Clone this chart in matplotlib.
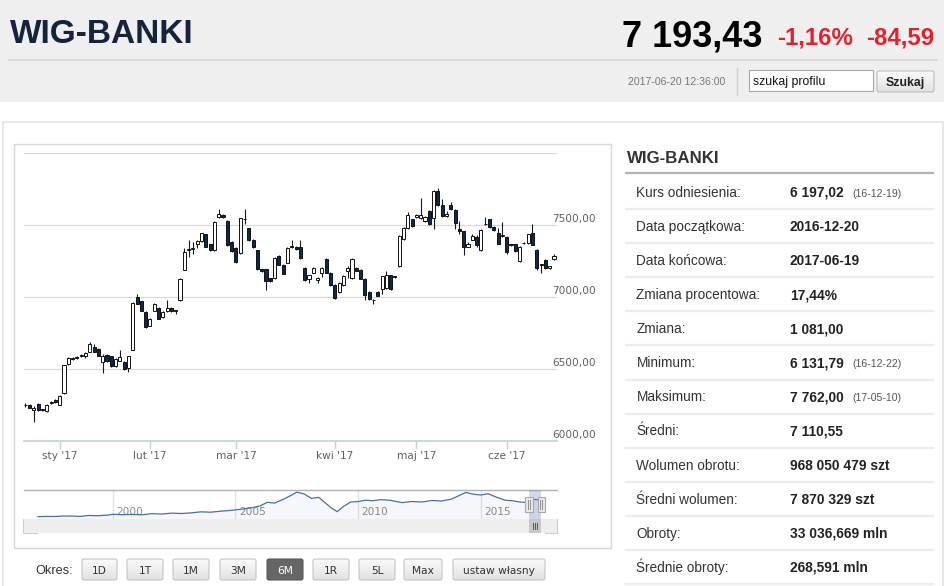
import datetime as dt

import matplotlib
matplotlib.use("Agg")
import matplotlib.pyplot as plt
import numpy as np
from matplotlib.patches import FancyBboxPatch, Polygon, Rectangle
from matplotlib.transforms import offset_copy

# ---- data ------------------------------------------------------------------
index_name = "WIG-BANKI"
last_price = "7 193,43"
change_pct = "-1,16%"
change_abs = "-84,59"
timestamp = "2017-06-20 12:36:00"

# daily candles, 2016-12-20 .. 2017-06-19
opens = [6245, 6247, 6215, 6254, 6215, 6208, 6262, 6282, 6250, 6329, 6534, 6569,
         6575, 6588, 6588, 6620, 6650, 6639, 6546, 6597, 6588, 6518, 6557, 6546,
         6504, 6634, 6999, 6969, 6899, 6801, 6906, 6923, 6860, 6902, 6923, 6904,
         6976, 7191, 7328, 7333, 7370, 7389, 7435, 7366, 7326, 7556, 7570, 7531,
         7384, 7338, 7307, 7540, 7477, 7400, 7326, 7193, 7193, 7130, 7133, 7286,
         7226, 7240, 7352, 7345, 7350, 7203, 7123, 7170, 7116, 7165, 7263, 7168,
         7086, 7035, 7084, 7184, 7133, 7200, 7190, 7128, 7035, 6979, 7035, 7058,
         7060, 7150, 7138, 7216, 7403, 7477, 7540, 7555, 7550, 7530, 7599, 7547,
         7738, 7640, 7566, 7640, 7605, 7470, 7458, 7350, 7400, 7420, 7326, 7510,
         7540, 7489, 7442, 7425, 7419, 7364, 7366, 7249, 7373, 7373, 7442, 7326,
         7226, 7256, 7200, 7263]
highs = [6262, 6255, 6238, 6262, 6222, 6255, 6275, 6290, 6318, 6530, 6580, 6580,
         6586, 6600, 6614, 6690, 6672, 6645, 6600, 6602, 6592, 6575, 6634, 6552,
         6592, 6965, 7023, 6975, 6903, 6852, 6960, 6930, 6900, 6976, 6928, 6912,
         7132, 7340, 7395, 7385, 7395, 7445, 7440, 7372, 7528, 7614, 7578, 7536,
         7390, 7345, 7552, 7614, 7482, 7405, 7330, 7198, 7198, 7135, 7280, 7292,
         7232, 7348, 7400, 7352, 7400, 7208, 7156, 7207, 7138, 7207, 7268, 7172,
         7090, 7104, 7150, 7215, 7268, 7210, 7195, 7132, 7040, 6985, 7040, 7148,
         7180, 7156, 7145, 7430, 7486, 7590, 7546, 7575, 7687, 7565, 7605, 7742,
         7762, 7680, 7600, 7660, 7612, 7530, 7462, 7380, 7440, 7428, 7472, 7560,
         7546, 7493, 7480, 7520, 7425, 7372, 7372, 7352, 7380, 7440, 7506, 7332,
         7232, 7262, 7218, 7300]
lows = [6232, 6225, 6132, 6208, 6210, 6200, 6255, 6262, 6245, 6325, 6530, 6560,
        6568, 6582, 6575, 6615, 6615, 6590, 6471, 6550, 6512, 6512, 6552, 6495,
        6480, 6630, 6950, 6902, 6785, 6795, 6900, 6845, 6855, 6898, 6898, 6885,
        6970, 7185, 7280, 7300, 7340, 7385, 7345, 7320, 7320, 7550, 7550, 7355,
        7315, 7240, 7300, 7505, 7390, 7340, 7188, 7175, 7049, 7105, 7128, 7220,
        7158, 7235, 7340, 7330, 7262, 7110, 7100, 7165, 7100, 7140, 7165, 7080,
        6988, 7030, 7080, 7130, 7128, 7180, 7122, 6980, 6978, 6950, 7005, 7020,
        7055, 7050, 7132, 7210, 7398, 7472, 7490, 7550, 7545, 7525, 7500, 7470,
        7636, 7560, 7560, 7605, 7470, 7440, 7290, 7345, 7395, 7350, 7320, 7500,
        7480, 7460, 7368, 7415, 7300, 7355, 7315, 7244, 7368, 7368, 7360, 7185,
        7170, 7198, 7195, 7255]
closes = [6250, 6231, 6228, 6215, 6217, 6250, 6270, 6266, 6313, 6527, 6576, 6571,
          6578, 6590, 6611, 6674, 6620, 6592, 6592, 6557, 6518, 6569, 6580, 6499,
          6588, 6960, 6953, 6906, 6790, 6848, 6953, 6848, 6895, 6923, 6902, 6906,
          7128, 7315, 7331, 7335, 7389, 7442, 7349, 7326, 7524, 7575, 7556, 7360,
          7319, 7245, 7547, 7542, 7396, 7345, 7193, 7180, 7109, 7109, 7272, 7226,
          7163, 7342, 7348, 7335, 7268, 7116, 7151, 7203, 7133, 7203, 7170, 7086,
          6993, 7100, 7147, 7200, 7263, 7184, 7128, 7016, 6983, 6977, 7010, 7144,
          7150, 7056, 7140, 7426, 7482, 7570, 7495, 7570, 7570, 7560, 7505, 7738,
          7641, 7566, 7580, 7611, 7512, 7456, 7349, 7370, 7425, 7360, 7466, 7505,
          7486, 7466, 7372, 7426, 7310, 7366, 7319, 7349, 7375, 7436, 7365, 7203,
          7224, 7203, 7215, 7286]

month_labels = ["sty '17", "lut '17", "mar '17", "kwi '17", "maj '17", "cze '17"]
month_first_idx = [8, 29, 49, 72, 91, 112]
y_ticks = [6000, 6500, 7000, 7500, 8000]

# navigator: long history of the index
nav_year = [1996.95, 1997.3, 1997.6, 1998.0, 1998.4, 1998.7, 1999.0, 1999.4, 1999.8,
            2000.0, 2000.4, 2000.8, 2001.2, 2001.6, 2002.0, 2002.4, 2002.8, 2003.2,
            2003.6, 2004.0, 2004.4, 2004.8, 2005.2, 2005.6, 2006.0, 2006.3, 2006.6,
            2007.0, 2007.3, 2007.5, 2007.8, 2008.1, 2008.4, 2008.7, 2008.9, 2009.15,
            2009.4, 2009.7, 2010.0, 2010.3, 2010.6, 2010.9, 2011.3, 2011.6, 2011.8,
            2012.2, 2012.6, 2013.0, 2013.4, 2013.8, 2014.1, 2014.4, 2014.7, 2015.0,
            2015.3, 2015.6, 2016.0, 2016.3, 2016.6, 2016.9, 2017.2, 2017.47]
nav_value = [900, 1000, 950, 1150, 1100, 1000, 1350, 1250, 1500,
             1800, 1650, 1750, 1600, 2050, 1900, 2250, 2100, 2350,
             2750, 2600, 3000, 3300, 3700, 4200, 5000, 6400, 6100,
             7800, 9200, 10300, 9600, 7900, 8300, 5900, 4300, 2800,
             4800, 6500, 6700, 7200, 7000, 7400, 7200, 6600, 6300,
             6700, 6500, 7100, 6900, 7600, 8900, 10200, 9500, 9200,
             9700, 8500, 7200, 7000, 6500, 6300, 7500, 7300]
nav_year_ticks = [2000, 2005, 2010, 2015]
range_start, range_end = "2016-12-20", "2017-06-20"

stat_labels = ["Kurs odniesienia:", "Data początkowa:", "Data końcowa:",
               "Zmiana procentowa:", "Zmiana:", "Minimum:", "Maksimum:", "Średni:",
               "Wolumen obrotu:", "Średni wolumen:", "Obroty:", "Średnie obroty:"]
stat_values = ["6 197,02", "2016-12-20", "2017-06-19", "17,44%", "1 081,00",
               "6 131,79", "7 762,00", "7 110,55", "968 050 479 szt",
               "7 870 329 szt", "33 036,669 mln", "268,591 mln"]
stat_notes = ["(16-12-19)", "", "", "", "", "(16-12-22)", "(17-05-10)",
              "", "", "", "", ""]

periods = ["1D", "1T", "1M", "3M", "6M", "1R", "5L", "Max", "ustaw własny"]
active_period = "6M"

# ---- layout helpers ----------------------------------------------------------
W, H = 945, 586
SANS = "Liberation Sans"
fig = plt.figure(figsize=(W / 100, H / 100), dpi=100)
bg = fig.add_axes([0, 0, 1, 1])
bg.set_xlim(0, W)
bg.set_ylim(H, 0)
bg.axis("off")


def px_axes(x0, y0, x1, y1):
    a = fig.add_axes([x0 / W, 1 - y1 / H, (x1 - x0) / W, (y1 - y0) / H])
    a.set_facecolor("none")
    for s in a.spines.values():
        s.set_visible(False)
    a.set_xticks([])
    a.set_yticks([])
    return a


def gradient_box(x0, y0, w, h, top="#fbfbfb", bottom="#e1e1e1", edge="#c4c4c4"):
    t = np.linspace(0, 1, 24)[:, None, None]
    c0 = np.array(matplotlib.colors.to_rgb(top))
    c1 = np.array(matplotlib.colors.to_rgb(bottom))
    img = c0 + (c1 - c0) * t
    bg.imshow(img, extent=[x0, x0 + w, y0 + h, y0], aspect="auto", zorder=2)
    bg.add_patch(FancyBboxPatch((x0, y0), w, h, boxstyle="round,pad=0,rounding_size=2",
                                fc="none", ec=edge, lw=0.8, zorder=3))


def dec_year(s):
    d = dt.date.fromisoformat(s)
    return d.year + (d.timetuple().tm_yday - 1) / 365.0


# ---- header -------------------------------------------------------------------
bg.add_patch(Rectangle((0, 0), W, 102, fc="#efefef", ec="none"))
bg.plot([9, 937], [59.5, 59.5], color="#d2d2d2", lw=1.2)
bg.text(10, 43, index_name, fontsize=24, weight="bold", color="#15233f",
        family=SANS, va="baseline")
bg.text(622, 47, last_price, fontsize=26, weight="bold", color="#000000",
        family=SANS, va="baseline")
bg.text(777, 45, change_pct, fontsize=17.3, weight="bold", color="#e4212b",
        family=SANS, va="baseline")
bg.text(866, 45, change_abs, fontsize=17.3, weight="bold", color="#e4212b",
        family=SANS, va="baseline")
bg.text(628, 85, timestamp, fontsize=7.6, color="#777777", family=SANS, va="baseline")
bg.plot([737, 737], [68, 95], color="#d0d0d0", lw=1)
bg.add_patch(Rectangle((749, 70), 124, 21, fc="white", ec="#a9a9a9", lw=0.8, zorder=2))
bg.text(753, 84.5, "szukaj profilu", fontsize=8.8, color="#111111", family=SANS,
        va="baseline", zorder=3)
gradient_box(877, 71, 57, 21, edge="#bdbdbd")
bg.text(905.5, 86, "Szukaj", fontsize=8.8, weight="bold", color="#222222",
        family=SANS, ha="center", va="baseline", zorder=4)

# page panel and chart frame
bg.plot([3, 943, 943], [122, 122, H], color="#e3e3e3", lw=1.2)
bg.plot([3, 3], [122, H], color="#e3e3e3", lw=1.2)
bg.add_patch(Rectangle((14, 144), 597, 404, fc="white", ec="#d6d6d6", lw=1))

# ---- main candlestick chart ---------------------------------------------------
ax = px_axes(24, 153.3, 557, 440.7)
idx = np.arange(len(opens))
o, hi, lo, c = map(np.asarray, (opens, highs, lows, closes))
ax.set_xlim(-0.3, len(opens) - 0.3)
ax.set_ylim(y_ticks[0], y_ticks[-1])
for v in y_ticks[1:]:
    ax.axhline(v, color="#d8d8d8", lw=0.8, zorder=1)
ax.axhline(y_ticks[0], color="#c0d0e0", lw=1.2, zorder=1, clip_on=False)

up = c >= o
ax.vlines(idx, lo, hi, color="#1a1a1a", lw=0.8, zorder=2)
body_low = np.minimum(o, c)
body_h = np.maximum(np.abs(c - o), 5)
ax.bar(idx, body_h, bottom=body_low, width=0.72,
       color=np.where(up, "#ffffff", "#0b2a52"), edgecolor="#111111",
       linewidth=0.7, zorder=3)

ylab_tr = offset_copy(ax.get_yaxis_transform(), fig=fig, x=0, y=2.7, units="dots")
for v in y_ticks[:-1]:
    ax.text((552.5 - 24) / 533, v, f"{v},00", transform=ylab_tr, fontsize=7.6,
            color="#606060", va="baseline", ha="left", clip_on=False)

tick_tr = ax.get_xaxis_transform()
xlab_tr = offset_copy(tick_tr, fig=fig, x=0, y=-18.5, units="dots")
for i, lab in zip(month_first_idx, month_labels):
    ax.plot([i, i], [0, -7.3 / 287.4], transform=tick_tr, color="#c0d0e0",
            lw=1, clip_on=False)
    ax.text(i, 0, lab, transform=xlab_tr, fontsize=7.6, color="#606060",
            ha="center", va="baseline", clip_on=False)

# ---- navigator --------------------------------------------------------------------
sel0, sel1 = dec_year(range_start), dec_year(range_end)
nav = px_axes(24, 490.3, 557, 519)
nav.set_xlim(1996.38, 2018.11)
nav.set_ylim(0, 11000)
nav.plot([0, 1], [1, 1], transform=nav.transAxes, color="#b2b1b6", lw=1, clip_on=False)
yr_tr = offset_copy(nav.get_xaxis_transform(), fig=fig, x=3.5, y=0, units="dots")
for yr in nav_year_ticks:
    nav.axvline(yr, color="#e4e4e4", lw=1, zorder=0)
    nav.text(yr, 4 / 28.7, str(yr), transform=yr_tr, fontsize=7.6, color="#8a8a8a",
             ha="left", va="baseline", zorder=1)
nav.fill_between(nav_year, nav_value, 0, color="#4572a7", alpha=0.05, lw=0, zorder=1)
nav.plot(nav_year, nav_value, color="#4572a7", lw=0.9, zorder=2)
nav.axvspan(sel0, sel1, color="#6685c2", alpha=0.3, lw=0, zorder=3)
htr = nav.get_xaxis_transform()
for e in (sel0, sel1):
    nav.add_patch(Rectangle((e - 0.15, 0.254), 0.3, 0.523, transform=htr,
                            fc="#ebe7e8", ec="#a9a9ad", lw=0.8, zorder=4, clip_on=False))
    for d in (-0.04, 0.04):
        nav.plot([e + d, e + d], [0.36, 0.67], transform=htr, color="#8e8e8e",
                 lw=0.7, zorder=5, clip_on=False)

# scrollbar
sb = px_axes(24, 519, 557, 533)
sb.set_facecolor("#eeeeee")
sb.set_xlim(nav.get_xlim())
sb.set_ylim(0, 1)
sb.axvspan(sel0, sel1, color="#c8c8c8", lw=0)
mid = (sel0 + sel1) / 2
for d in (-0.08, 0.0, 0.08):
    sb.plot([mid + d, mid + d], [0.3, 0.7], color="#555555", lw=0.7)
bg.add_patch(Rectangle((23.3, 519), 14, 14, fc="#e6e6e6", ec="#cccccc", lw=0.8, zorder=3))
bg.add_patch(Polygon([(28.8, 526), (31.6, 523.8), (31.6, 528.2)], closed=True,
                     fc="#555555", ec="none", zorder=4))
bg.add_patch(Rectangle((545, 519), 11.7, 14, fc="#e6e6e6", ec="#cccccc", lw=0.8, zorder=3))
bg.add_patch(Polygon([(552.5, 526), (549.7, 523.8), (549.7, 528.2)], closed=True,
                     fc="#555555", ec="none", zorder=4))

# ---- period buttons ---------------------------------------------------------------
bg.text(35, 573.5, "Okres:", fontsize=9.2, color="#333333", family=SANS, va="baseline")
btn_left = [82, 127, 173, 220, 267, 313, 359, 404, 453]
btn_width = [35, 36, 36, 36, 36, 36, 36, 38, 92]
for x0, w, lab in zip(btn_left, btn_width, periods):
    if lab == active_period:
        bg.add_patch(FancyBboxPatch((x0, 559), w, 21, boxstyle="round,pad=0,rounding_size=2",
                                    fc="#666666", ec="#5a5a5a", lw=0.8, zorder=3))
        col = "white"
    else:
        gradient_box(x0, 559, w, 21)
        col = "#333333"
    bg.text(x0 + w / 2, 574.3, lab, fontsize=7.7, color=col, ha="center",
            va="baseline", zorder=5)

# ---- statistics table -----------------------------------------------------------------
bg.text(627, 163.3, index_name, fontsize=12.2, weight="bold", color="#333333",
        family=SANS, va="baseline")
bg.plot([626, 933], [172.7, 172.7], color="#b4b4b4", lw=1.6)
for k, (lab, val, note) in enumerate(zip(stat_labels, stat_values, stat_notes)):
    yb = 196.7 + 34.1 * k
    bg.text(636.5, yb, lab, fontsize=9.8, color="#333333", family=SANS, va="baseline")
    bg.text(790, yb, val, fontsize=9.9, weight="bold", color="#222222", family=SANS,
            va="baseline")
    if note:
        bg.text(852.5, yb, note, fontsize=7.6, color="#555555", family=SANS,
                va="baseline")
    bg.plot([626, 933], [209 + 34.1 * k] * 2, color="#ececec", lw=1.6)

bg.set_xlim(0, W)
bg.set_ylim(H, 0)
fig.savefig("out.png", dpi=100)
